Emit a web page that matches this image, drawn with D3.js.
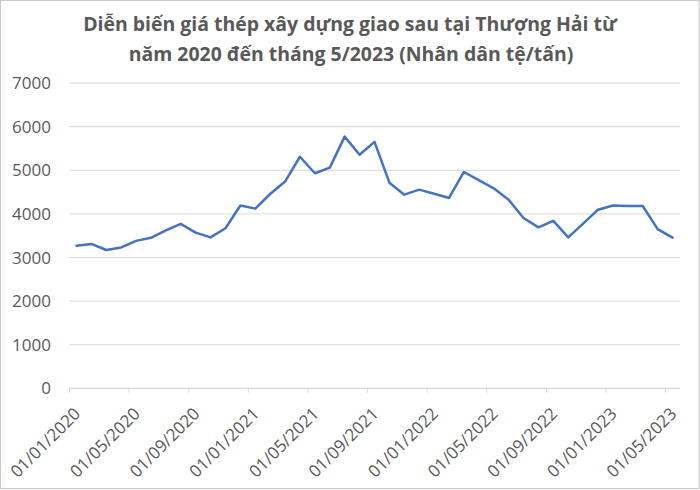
<!DOCTYPE html>
<html>
<head>
<meta charset="utf-8">
<script src="https://cdn.jsdelivr.net/npm/d3@7/dist/d3.min.js"></script>
<style>
  html, body { margin: 0; padding: 0; background: #fff; }
  svg { display: block; }
</style>
</head>
<body>
<svg id="chart" width="700" height="490"></svg>
<script>
// ---- data ----
const titleLines = [
  "Diễn biến giá thép xây dựng giao sau tại Thượng Hải từ",
  "năm 2020 đến tháng 5/2023 (Nhân dân tệ/tấn)"
];
// monthly, 01/2020 .. 05/2023 (41 months)
const prices = [
  3260, 3300, 3160, 3220, 3370, 3440, 3610, 3760, 3560, 3450, 3660, 4180,
  4110, 4445, 4730, 5300, 4920, 5050, 5760, 5345, 5640, 4705, 4430, 4545,
  4450, 4355, 4950, 4765, 4575, 4315, 3895, 3680, 3830, 3450, 3765, 4085,
  4180, 4170, 4170, 3640, 3445
];
const tickLabels = [
  "01/01/2020", "01/05/2020", "01/09/2020", "01/01/2021", "01/05/2021",
  "01/09/2021", "01/01/2022", "01/05/2022", "01/09/2022", "01/01/2023",
  "01/05/2023"
];
const yTicks = [0, 1000, 2000, 3000, 4000, 5000, 6000, 7000];

// ---- layout ----
const svg = d3.select("#chart");
const W = 700, H = 490;
const plot = { left: 69, right: 680, top: 82.6, bottom: 387.8 };
const textColor = "#595959";
const gridColor = "#d9d9d9";
const font = "'Open Sans', 'DejaVu Sans', sans-serif";

// chart border
svg.append("rect").attr("x", 0.5).attr("y", 0.5).attr("width", W - 1.5).attr("height", H - 2)
  .attr("fill", "#fff").attr("stroke", "#c8c8c8").attr("stroke-width", 1);

const x = d3.scaleLinear().domain([0, prices.length]).range([plot.left, plot.right]);
const y = d3.scaleLinear().domain([0, 7000]).range([plot.bottom, plot.top]);

// title
const title = svg.append("g").attr("fill", textColor).attr("font-family", font)
  .attr("font-weight", "bold").attr("text-anchor", "middle");
const t1 = title.append("text").attr("x", 350).attr("y", 31).attr("font-size", 20).text(titleLines[0]);
const w1 = t1.node().getComputedTextLength();
const fs = 20 * 534 / w1;
t1.attr("font-size", fs);
title.append("text").attr("x", 351).attr("y", 60.5).attr("font-size", fs).text(titleLines[1]);

// gridlines
const yAxis = d3.axisLeft(y).tickValues(yTicks).tickSize(-(plot.right - plot.left)).tickPadding(18)
  .tickFormat(d3.format("d"));
const gy = svg.append("g").attr("transform", `translate(${plot.left},0)`).call(yAxis);
gy.select(".domain").remove();
gy.selectAll(".tick line").attr("stroke", gridColor).attr("stroke-width", 1);
gy.selectAll(".tick text").attr("fill", textColor).attr("font-family", font)
  .attr("font-size", 17).attr("dy", "0.36em");

// x axis
const tickIdx = tickLabels.map((d, i) => i * 4);
const xAxis = d3.axisBottom(x).tickValues(tickIdx).tickSize(5).tickFormat((d, i) => tickLabels[i]);
const gx = svg.append("g").attr("transform", `translate(0,${plot.bottom})`).call(xAxis);
gx.select(".domain").attr("stroke", gridColor).attr("stroke-width", 1)
  .attr("d", `M${plot.left},0.5H${plot.right}`);
gx.selectAll(".tick line").attr("stroke", gridColor);
gx.selectAll(".tick text")
  .attr("fill", textColor).attr("font-family", font).attr("font-size", 17)
  .attr("text-anchor", "end").attr("y", 0).attr("dy", 0)
  .attr("transform", "translate(12,27) rotate(-45)");

// line
const line = d3.line().x((d, i) => x(i + 0.5)).y(d => y(d));
svg.append("path").datum(prices).attr("d", line)
  .attr("fill", "none").attr("stroke", "#4472C4").attr("stroke-width", 2.5)
  .attr("stroke-linejoin", "round").attr("stroke-linecap", "round");
</script>
</body>
</html>
